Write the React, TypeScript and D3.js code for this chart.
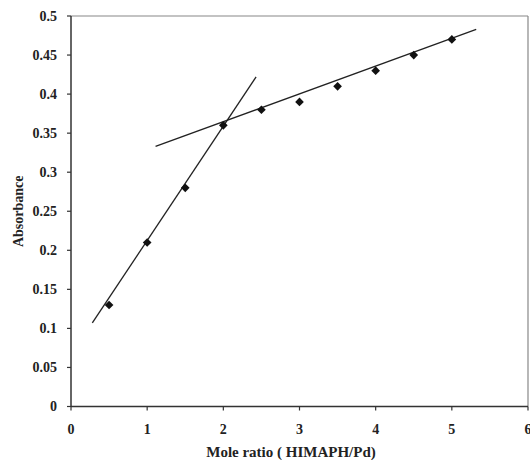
import React from 'react';
import * as d3 from 'd3';

const moleRatio = [0.5, 1, 1.5, 2, 2.5, 3, 3.5, 4, 4.5, 5];
const absorbance = [0.13, 0.21, 0.28, 0.36, 0.38, 0.39, 0.41, 0.43, 0.45, 0.47];
// two fitted lines, read as end points
const fitSteep = [[0.28, 0.107], [2.43, 0.422]];
const fitFlat = [[1.11, 0.333], [5.32, 0.483]];
const xTicks = [0, 1, 2, 3, 4, 5, 6];
const yTicks = [0, 0.05, 0.1, 0.15, 0.2, 0.25, 0.3, 0.35, 0.4, 0.45, 0.5];

const width = 530;
const height = 460;
const margin = { left: 71, right: 2, top: 16, bottom: 53.5 };
const font = '"Liberation Serif", "Times New Roman", serif';

export default function App() {
  const x = d3.scaleLinear().domain([0, 6]).range([margin.left, width - margin.right]);
  const y = d3.scaleLinear().domain([0, 0.5]).range([height - margin.bottom, margin.top]);
  const line = d3.line<number[]>().x(d => x(d[0])).y(d => y(d[1]));
  const diamond = d3.symbol().type(d3.symbolDiamond2).size(48)();

  return (
    <svg width={width} height={height} style={{ position: 'absolute', left: 0, top: 0, background: '#fff' }}>
      {/* frame */}
      <line x1={x(0)} x2={x(6)} y1={y(0.5)} y2={y(0.5)} stroke="#888" strokeWidth={1.2} />
      <line x1={x(6)} x2={x(6)} y1={y(0.5)} y2={y(0)} stroke="#888" strokeWidth={1.2} />
      <line x1={x(0)} x2={x(0)} y1={y(0.5)} y2={y(0)} stroke="#333" strokeWidth={1.5} />
      <line x1={x(0)} x2={x(6)} y1={y(0)} y2={y(0)} stroke="#333" strokeWidth={1.5} />

      {yTicks.map(t => (
        <g key={'y' + t}>
          <line x1={x(0) - 4} x2={x(0)} y1={y(t)} y2={y(t)} stroke="#333" strokeWidth={1.2} />
          <text x={x(0) - 14} y={y(t)} dy="0.35em" textAnchor="end" fontFamily={font} fontWeight="bold" fontSize={14} fill="#222">
            {t}
          </text>
        </g>
      ))}
      {xTicks.map(t => (
        <g key={'x' + t}>
          <line x1={x(t)} x2={x(t)} y1={y(0)} y2={y(0) + 4} stroke="#333" strokeWidth={1.2} />
          <text x={x(t)} y={y(0) + 27} textAnchor="middle" fontFamily={font} fontWeight="bold" fontSize={14} fill="#222">
            {t}
          </text>
        </g>
      ))}

      <text transform={`translate(23,${(y(0) + y(0.5)) / 2}) rotate(-90)`} textAnchor="middle" fontFamily={font} fontWeight="bold" fontSize={14} fill="#222">
        Absorbance
      </text>
      <text x={291} y={457} textAnchor="middle" fontFamily={font} fontWeight="bold" fontSize={15} fill="#222">
        Mole ratio ( HIMAPH/Pd)
      </text>

      <path d={line(fitSteep) || ''} fill="none" stroke="#222" strokeWidth={1.3} />
      <path d={line(fitFlat) || ''} fill="none" stroke="#222" strokeWidth={1.3} />

      {moleRatio.map((m, i) => (
        <path key={m} d={diamond || ''} transform={`translate(${x(m)},${y(absorbance[i])})`} fill="#111" />
      ))}
    </svg>
  );
}
